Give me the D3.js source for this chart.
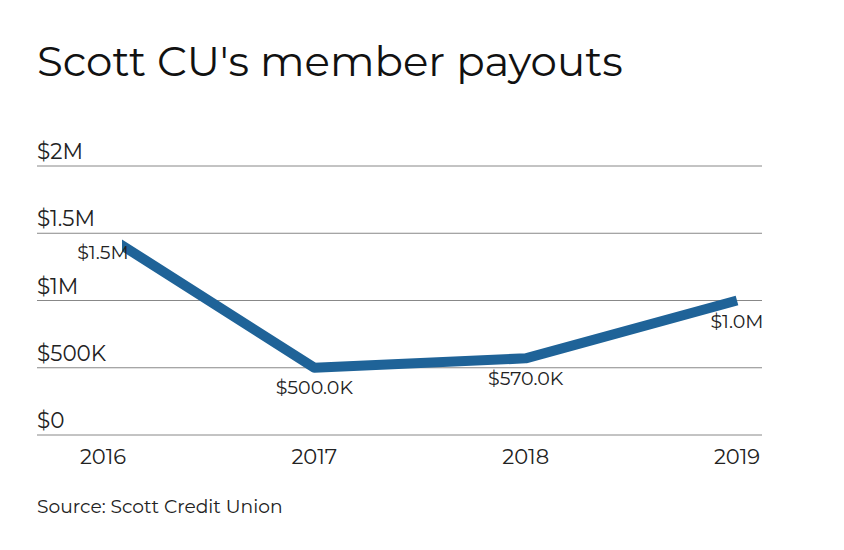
<!DOCTYPE html>
<html><head><meta charset="utf-8">
<script src="https://cdn.jsdelivr.net/npm/d3@7"></script>
<style>body{margin:0;background:#fff;font-family:"Montserrat","Lato","Noto Sans",sans-serif}</style>
</head><body><svg width="844" height="550"></svg>
<script>
const years = ["2016", "2017", "2018", "2019"];
const payouts = [1500000, 500000, 570000, 1000000];
const valueLabels = ["$1.5M", "$500.0K", "$570.0K", "$1.0M"];
const yTicks = [0, 500000, 1000000, 1500000, 2000000];
const yTickLabels = ["$0", "$500K", "$1M", "$1.5M", "$2M"];

const svg = d3.select("svg");
svg.append("text").attr("x", 37).attr("y", 76).attr("font-size", 42).attr("fill", "#111")
  .text("Scott CU's member payouts");

const x = d3.scalePoint().domain(years).range([103, 737]);
const y = d3.scaleLinear().domain([0, 2000000]).range([435, 166]);

const g = svg.append("g");
yTicks.forEach((t, i) => {
  g.append("line").attr("x1", 37).attr("x2", 762).attr("y1", y(t)).attr("y2", y(t))
    .attr("stroke", "#888").attr("stroke-width", 1);
  g.append("text").attr("x", 37).attr("y", y(t) - 7).attr("font-size", 21.5).attr("fill", "#222")
    .text(yTickLabels[i]);
});
years.forEach(yr => {
  g.append("text").attr("x", x(yr)).attr("y", 464).attr("text-anchor", "middle")
    .attr("font-size", 21).attr("fill", "#222").text(yr);
});

svg.append("clipPath").attr("id", "clip").append("rect")
  .attr("x", 122).attr("y", 0).attr("width", 700).attr("height", 550);
svg.append("path").datum(payouts).attr("clip-path", "url(#clip)")
  .attr("d", d3.line().x((d, i) => x(years[i])).y(d => y(d)))
  .attr("fill", "none").attr("stroke", "#1f6398").attr("stroke-width", 10)
  .attr("stroke-linejoin", "round");

const lblDy = [26, 26, 27, 27];
payouts.forEach((d, i) => {
  svg.append("text").attr("x", x(years[i])).attr("y", y(d) + lblDy[i])
    .attr("text-anchor", "middle").attr("font-size", 19).attr("fill", "#222")
    .text(valueLabels[i]);
});

svg.append("text").attr("x", 37).attr("y", 513).attr("font-size", 18.7).attr("fill", "#222")
  .text("Source: Scott Credit Union");
</script></body></html>
